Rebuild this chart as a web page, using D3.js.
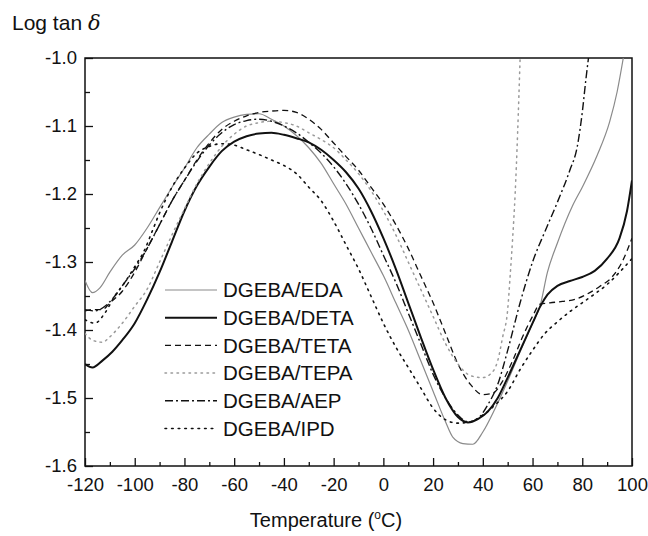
<!DOCTYPE html>
<html>
<head>
<meta charset="utf-8">
<script src="https://cdn.jsdelivr.net/npm/d3@7"></script>
<style>
  body { margin: 0; background: #fff; }
  text { font-family: "Liberation Sans", Arial, sans-serif; fill: #111; }
</style>
</head>
<body>
<div id="chart"></div>
<script>
// tick values
const xMajor = [-120, -100, -80, -60, -40, -20, 0, 20, 40, 60, 80, 100];
const xMinor = [-110, -90, -70, -50, -30, -10, 10, 30, 50, 70, 90];
const yMajor = [-1.0, -1.1, -1.2, -1.3, -1.4, -1.5, -1.6];
const yMinor = [-1.05, -1.15, -1.25, -1.35, -1.45, -1.55];

const seriesNames = ["DGEBA/EDA", "DGEBA/DETA", "DGEBA/TETA", "DGEBA/TEPA", "DGEBA/AEP", "DGEBA/IPD"];

// [temperature, log tan delta]
const eda = [[-120,-1.327],[-117,-1.345],[-114,-1.338],[-110,-1.315],[-105,-1.29],[-100,-1.275],[-95,-1.25],
  [-90,-1.22],[-85,-1.19],[-80,-1.162],[-75,-1.132],[-70,-1.112],[-65,-1.095],[-60,-1.087],[-55,-1.083],
  [-50,-1.082],[-45,-1.09],[-40,-1.1],[-35,-1.114],[-30,-1.132],[-25,-1.155],[-20,-1.185],[-15,-1.215],
  [-10,-1.25],[-5,-1.285],[0,-1.32],[5,-1.36],[10,-1.4],[15,-1.445],[20,-1.49],[25,-1.535],[28,-1.558],
  [32,-1.567],[36,-1.568],[40,-1.55],[45,-1.515],[50,-1.475],[55,-1.432],[60,-1.39],[63,-1.365],
  [66,-1.315],[70,-1.272],[76,-1.218],[80,-1.19],[86,-1.143],[91,-1.094],[94,-1.05],[96.5,-1.0]];

const deta = [[-120,-1.45],[-117,-1.455],[-113,-1.445],[-109,-1.432],[-105,-1.415],[-100,-1.39],[-95,-1.355],
  [-90,-1.315],[-85,-1.27],[-80,-1.225],[-75,-1.188],[-70,-1.16],[-65,-1.137],[-60,-1.123],[-55,-1.115],
  [-50,-1.111],[-45,-1.11],[-40,-1.113],[-35,-1.118],[-30,-1.124],[-25,-1.135],[-20,-1.15],[-15,-1.168],
  [-10,-1.192],[-5,-1.225],[0,-1.265],[5,-1.31],[10,-1.36],[15,-1.41],[20,-1.458],[25,-1.5],[30,-1.528],
  [34,-1.536],[38,-1.531],[42,-1.52],[46,-1.5],[50,-1.47],[55,-1.43],[60,-1.39],[63,-1.366],[66,-1.348],
  [70,-1.335],[75,-1.328],[80,-1.322],[85,-1.313],[90,-1.295],[95,-1.265],[98,-1.225],[100,-1.18]];

const teta = [[-120,-1.372],[-117,-1.37],[-113,-1.37],[-110,-1.36],[-105,-1.343],[-100,-1.315],[-95,-1.28],
  [-90,-1.245],[-85,-1.21],[-80,-1.18],[-75,-1.15],[-70,-1.125],[-65,-1.105],[-60,-1.093],[-55,-1.085],
  [-50,-1.08],[-45,-1.078],[-40,-1.077],[-35,-1.08],[-30,-1.09],[-25,-1.105],[-20,-1.125],[-15,-1.145],
  [-10,-1.165],[-5,-1.19],[0,-1.215],[5,-1.245],[10,-1.28],[15,-1.32],[20,-1.36],[25,-1.405],[30,-1.45],
  [35,-1.48],[40,-1.495],[44,-1.493],[48,-1.475],[52,-1.445],[56,-1.41],[60,-1.38],[63,-1.362],[67,-1.36],
  [72,-1.358],[77,-1.355],[82,-1.347],[87,-1.336],[92,-1.322],[96,-1.3],[100,-1.265]];

const tepa = [[-120,-1.405],[-117,-1.415],[-113,-1.418],[-110,-1.41],[-105,-1.39],[-100,-1.365],[-95,-1.34],
  [-90,-1.3],[-85,-1.26],[-80,-1.222],[-75,-1.185],[-70,-1.155],[-65,-1.13],[-60,-1.112],[-55,-1.1],
  [-50,-1.095],[-45,-1.093],[-40,-1.095],[-35,-1.1],[-30,-1.11],[-25,-1.12],[-20,-1.132],[-15,-1.15],
  [-10,-1.17],[-5,-1.195],[0,-1.225],[5,-1.26],[10,-1.3],[15,-1.34],[20,-1.38],[25,-1.42],[30,-1.45],
  [35,-1.467],[40,-1.47],[43,-1.465],[46,-1.445],[48,-1.41],[50,-1.37],[51,-1.32],[52,-1.265],[53,-1.2],
  [54,-1.11],[55,-1.0]];

const aep = [[-120,-1.37],[-116,-1.372],[-112,-1.365],[-108,-1.35],[-104,-1.33],[-100,-1.31],[-95,-1.28],
  [-90,-1.245],[-85,-1.21],[-80,-1.18],[-75,-1.152],[-70,-1.128],[-65,-1.11],[-60,-1.098],[-55,-1.092],
  [-50,-1.09],[-45,-1.093],[-40,-1.1],[-35,-1.11],[-30,-1.124],[-25,-1.14],[-20,-1.16],[-15,-1.185],
  [-10,-1.215],[-5,-1.25],[0,-1.29],[5,-1.33],[10,-1.375],[15,-1.42],[20,-1.465],[25,-1.5],[30,-1.525],
  [34,-1.535],[38,-1.53],[42,-1.51],[46,-1.48],[50,-1.43],[55,-1.36],[60,-1.3],[65,-1.255],[70,-1.212],
  [75,-1.165],[78,-1.13],[80,-1.08],[81.5,-1.03],[82.5,-1.0]];

const ipd = [[-120,-1.385],[-116,-1.39],[-112,-1.375],[-108,-1.35],[-104,-1.33],[-100,-1.307],[-96,-1.282],
  [-93,-1.255],[-90,-1.228],[-85,-1.19],[-80,-1.162],[-75,-1.14],[-70,-1.13],[-65,-1.126],[-60,-1.128],
  [-55,-1.135],[-50,-1.142],[-45,-1.15],[-40,-1.158],[-35,-1.17],[-30,-1.19],[-25,-1.21],[-20,-1.24],
  [-15,-1.275],[-10,-1.31],[-5,-1.35],[0,-1.39],[5,-1.425],[10,-1.455],[15,-1.485],[20,-1.515],
  [25,-1.532],[30,-1.537],[35,-1.535],[40,-1.525],[45,-1.51],[50,-1.49],[55,-1.458],[60,-1.43],
  [65,-1.405],[70,-1.388],[75,-1.373],[80,-1.36],[85,-1.347],[90,-1.333],[95,-1.315],[100,-1.295]];

const seriesData = [eda, deta, teta, tepa, aep, ipd];

const styles = [
  {stroke: "#8a8a8a", width: 1.2, dash: null},
  {stroke: "#111", width: 2, dash: null},
  {stroke: "#111", width: 1.3, dash: "6,4"},
  {stroke: "#9a9a9a", width: 1.5, dash: "1.5,4.5"},
  {stroke: "#111", width: 1.4, dash: "8,3,2,3"},
  {stroke: "#111", width: 1.6, dash: "1.6,5"}
];

const W = 648, H = 536;
const margin = {top: 58, right: 16, bottom: 70, left: 85};
const iw = W - margin.left - margin.right;
const ih = H - margin.top - margin.bottom;

const svg = d3.select("#chart").append("svg")
  .attr("width", W)
  .attr("height", H);

const g = svg.append("g").attr("transform", `translate(${margin.left},${margin.top})`);

const x = d3.scaleLinear().domain([-120, 100]).range([0, iw]);
const y = d3.scaleLinear().domain([-1.6, -1.0]).range([ih, 0]);

// clip so curves stop at the frame
g.append("clipPath").attr("id", "clip")
  .append("rect").attr("width", iw).attr("height", ih);

// axes, ticks inside
g.append("g").attr("transform", `translate(0,${ih})`)
  .call(d3.axisBottom(x).tickValues(xMajor).tickSizeInner(-8).tickSizeOuter(0).tickPadding(12)
    .tickFormat(d => String(d)));
g.append("g").attr("transform", `translate(0,${ih})`)
  .call(d3.axisBottom(x).tickValues(xMinor).tickSizeInner(-4).tickSizeOuter(0).tickFormat(""));

g.append("g")
  .call(d3.axisLeft(y).tickValues(yMajor).tickSizeInner(-8).tickSizeOuter(0).tickPadding(8)
    .tickFormat(d => d.toFixed(1)));
g.append("g")
  .call(d3.axisLeft(y).tickValues(yMinor).tickSizeInner(-5).tickSizeOuter(0).tickFormat(""));

g.selectAll(".domain").remove();
g.selectAll(".tick line").attr("stroke", "#111").attr("stroke-width", 1.3);
g.selectAll(".tick text").attr("font-size", 18.5).attr("fill", "#111");

// frame
g.append("rect")
  .attr("width", iw).attr("height", ih)
  .attr("fill", "none").attr("stroke", "#111").attr("stroke-width", 1.5);

const line = d3.line()
  .x(d => x(d[0]))
  .y(d => y(d[1]))
  .curve(d3.curveMonotoneX);

g.append("g").attr("clip-path", "url(#clip)")
  .selectAll("path")
  .data(seriesData)
  .enter()
  .append("path")
  .attr("fill", "none")
  .attr("d", line)
  .attr("stroke", (d, i) => styles[i].stroke)
  .attr("stroke-width", (d, i) => styles[i].width)
  .attr("stroke-dasharray", (d, i) => styles[i].dash)
  .attr("stroke-linecap", (d, i) => i === 3 || i === 5 ? "round" : "butt");

// legend
const legend = g.append("g").attr("transform", `translate(${165 - margin.left},${290 - margin.top})`);
const rows = legend.selectAll(".row")
  .data(seriesNames)
  .enter()
  .append("g")
  .attr("class", "row")
  .attr("transform", (d, i) => `translate(0,${i * 27.7})`);

rows.append("line")
  .attr("x1", 0).attr("x2", 52)
  .attr("stroke", (d, i) => styles[i].stroke)
  .attr("stroke-width", (d, i) => styles[i].width)
  .attr("stroke-dasharray", (d, i) => styles[i].dash)
  .attr("stroke-linecap", (d, i) => i === 3 || i === 5 ? "round" : "butt");

rows.append("text")
  .attr("x", 58)
  .attr("dy", "0.36em")
  .attr("font-size", 20.5)
  .text(d => d);

// axis titles
const xt = svg.append("text")
  .attr("x", 326).attr("y", 527)
  .attr("text-anchor", "middle")
  .attr("font-size", 20);
xt.append("tspan").text("Temperature (");
xt.append("tspan").attr("font-size", 12).attr("dy", -8).text("o");
xt.append("tspan").attr("dy", 8).text("C)");

const yt = svg.append("text")
  .attr("x", 12).attr("y", 30)
  .attr("font-size", 21);
yt.append("tspan").text("Log tan ");
yt.append("tspan")
  .attr("font-family", "'DejaVu Serif', 'Liberation Serif', serif")
  .attr("font-style", "italic")
  .text("δ");
</script>
</body>
</html>
